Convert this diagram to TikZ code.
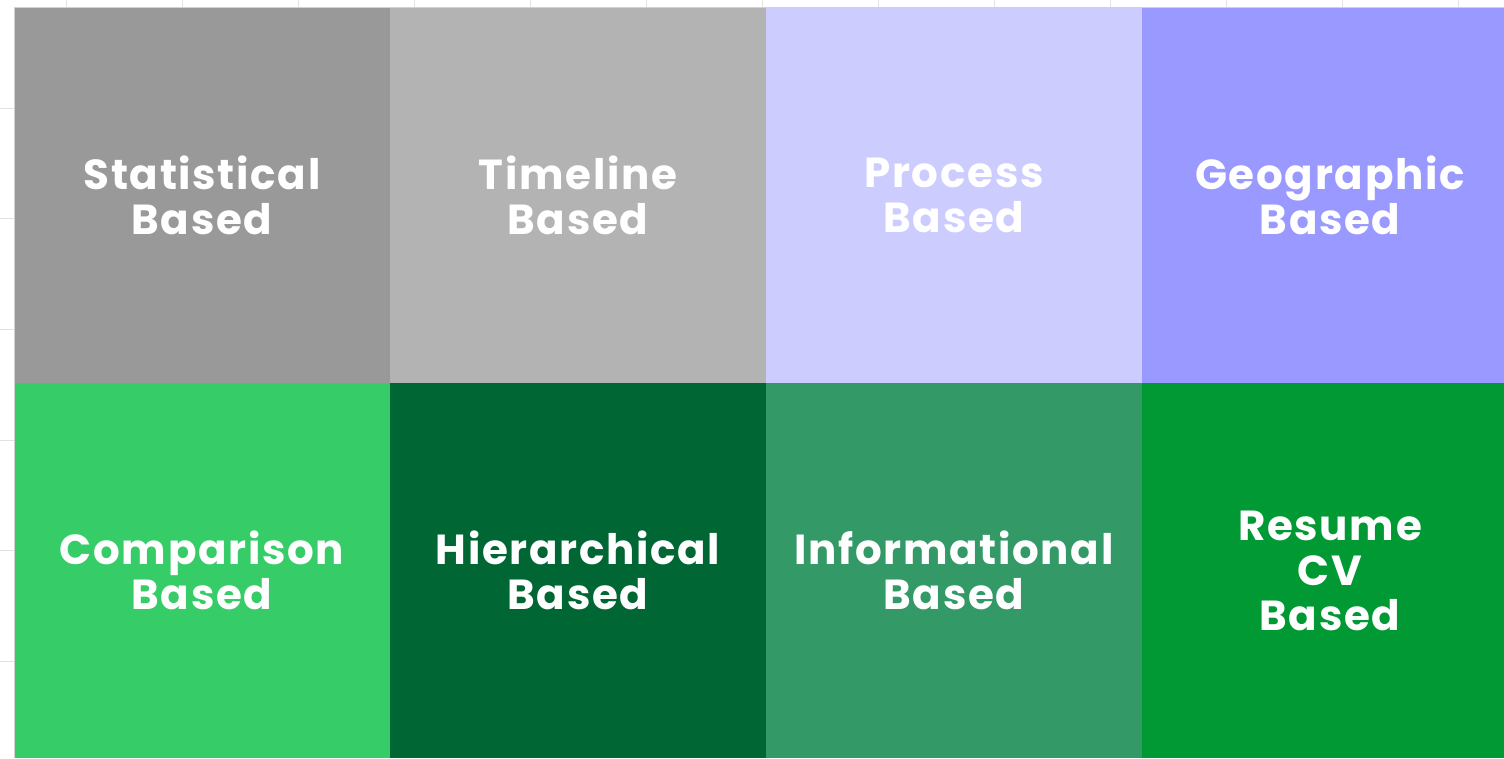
\documentclass[tikz,border=0pt]{standalone}
\usepackage{fontspec}
\setmainfont[LetterSpace=4]{Poppins}
\usepackage{tikz}
\definecolor{mygray}{RGB}{153,153,153}
\definecolor{mylightgray}{RGB}{179,179,179}
\definecolor{mylavender}{RGB}{204,204,255}
\definecolor{myperiwinkle}{RGB}{153,153,255}
\definecolor{mylimegreen}{RGB}{54,204,104}
\definecolor{mydarkgreen}{RGB}{0,102,51}
\definecolor{myseagreen}{RGB}{51,153,102}
\definecolor{mygreen}{RGB}{0,153,51}
\definecolor{mygrid}{RGB}{226,226,226}
\usetikzlibrary{positioning}

\begin{document}
\begin{tikzpicture}[
  x=0.5pt,
  y=-0.5pt,
  mycell/.style={
    rectangle,
    fill=#1,
    minimum width=188pt,
    minimum height=187.5pt,
    inner sep=0pt,
    outer sep=0pt,
    text=white,
    align=center,
    font=\fontsize{21}{22.5}\selectfont\bfseries
    }
]
\useasboundingbox (0,0) rectangle (1504,759);

% faint grid behind the cells
\foreach \Col in {0,...,12}
  \draw[mygrid, line width=0.6pt] (66.7+116*\Col,0) -- (66.7+116*\Col,8);
\foreach \Row in {0,...,5}
  \draw[mygrid, line width=0.6pt] (0,108.3+110.6*\Row) -- (14,108.3+110.6*\Row);

\node[mycell=mygray, anchor=north west] (statistical) at (14,8) {Statistical\\Based};
\node[mycell=mylightgray, right=0pt of statistical] (timeline) {Timeline\\Based};
\node[mycell=mylavender, right=0pt of timeline] (process) {Process\\Based};
\node[mycell=myperiwinkle, right=0pt of process] (geographic) {Geographic\\Based};

\node[mycell=mylimegreen, below=0pt of statistical] (comparison) {Comparison\\Based};
\node[mycell=mydarkgreen, right=0pt of comparison] (hierarchical) {Hierarchical\\Based};
\node[mycell=myseagreen, right=0pt of hierarchical] (informational) {Informational\\Based};
\node[mycell=mygreen, right=0pt of informational] (resume) {Resume\\CV\\Based};

% thin edge on the left and top
\draw[black!18, line width=0.5pt] (comparison.south west) |- (geographic.north east);
\end{tikzpicture}
\end{document}
